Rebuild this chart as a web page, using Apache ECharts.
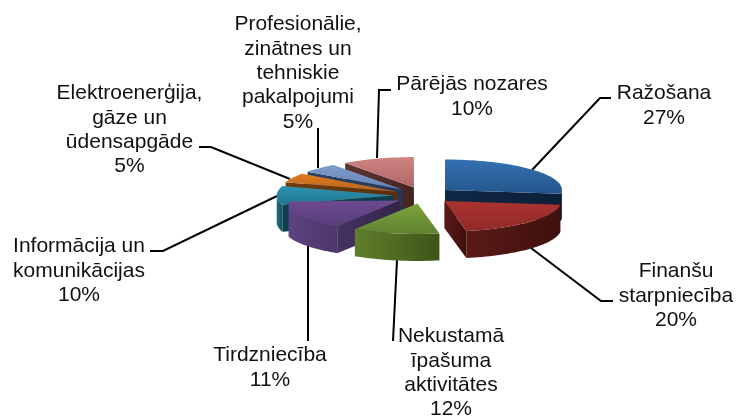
<!DOCTYPE html>
<html><head><meta charset="utf-8">
<style>html,body{margin:0;padding:0;background:#fff}#c{width:736px;height:416px}</style>
<script src="https://cdn.jsdelivr.net/npm/echarts@6/dist/echarts.min.js"></script>
</head><body><div id="c"></div>
<script>
const categories = ['Ražošana','Finanšu starpniecība','Nekustamā īpašuma aktivitātes','Tirdzniecība','Informācija un komunikācijas','Elektroenerģija, gāze un ūdensapgāde','Profesionālie, zinātnes un tehniskie pakalpojumi','Pārējās nozares'];
const shares = [27,20,12,11,10,5,5,10];
const labelLines = [['Ražošana'],['Finanšu','starpniecība'],['Nekustamā','īpašuma','aktivitātes'],['Tirdzniecība'],['Informācija un','komunikācijas'],['Elektroenerģija,','gāze un','ūdensapgāde'],['Profesionālie,','zinātnes un','tehniskie','pakalpojumi'],['Pārējās nozares']];

const topColors = [['#3470b0','#24568c'],['#ab3330','#8f2a28'],['#7ba63c','#5f8030'],['#6c4a90','#5b3f7c'],['#2f93b0','#1f7690'],['#e07c20','#b8641a'],['#7f9cca','#6482b4'],['#cf8583','#ae6563']];
const radialColors = [['#0f2747','#0d2038'],['#5a1a17','#3f100e'],['#5f7f2c','#3f5418'],['#463260','#33244a'],['#0e3f4e','#0e3f4e'],['#6e3c0e','#5c300a'],['#2c4468','#24385a'],['#5c3432','#452524']];
const outerColors = [['#0f2747','#0d2038'],['#5a1a17','#3f100e'],['#5f7f2c','#3f5418'],['#5e4282','#4c3868'],['#1d6f86','#12505f'],['#8a4a10','#5c300a'],['#34507c','#24385a'],['#5c3432','#452524']];
const drawOrder = [7,6,5,4,3,2,0,1];
const labelPos = [[664,93.5],[676,271.5],[451,336.5],[270,355.5],[79,246.5],[129.5,93.5],[298,24.5],[472,84.5]];
const leaders = [
 [[611,98],[600,98],[532,170]],
 [[613,301],[601,301],[531,248]],
 [[393,341],[397,260]],
 [[308,341],[308,246]],
 [[150,251],[163,251],[277,196]],
 [[199,147],[211,147],[290,179]],
 [[318,128],[318,168]],
 [[391,90],[379,90],[377,158]]
];
// the reference's purple slice bulges above its true edge; vertex offsets from its apex
const topBulge = {3:[[-111,1]]};

const C = {x:423,y:195.4,rx:117,ry:30.5,k:0.28,d:29.3,depth:27};
const total = shares.reduce((a,b)=>a+b,0);
const rad = Math.PI/180;
function angles(i){let s=0;for(let j=0;j<i;j++)s+=shares[j];return [s/total*360,(s+shares[i])/total*360];}
function arc(ax,ay,a0,a1,dy){const p=[];const n=Math.max(2,Math.ceil((a1-a0)/2));for(let t=0;t<=n;t++){const a=(a0+(a1-a0)*t/n)*rad;p.push([ax+C.rx*Math.sin(a),ay-C.ry*Math.cos(a)+dy]);}return p;}
function grad(c,h){return h?new echarts.graphic.LinearGradient(0,0,1,0,[{offset:0,color:c[0]},{offset:1,color:c[1]}]):new echarts.graphic.LinearGradient(0,0,0,1,[{offset:0,color:c[0]},{offset:1,color:c[1]}]);}

function renderSlice(params,api){
  const i=api.value(0);
  const [a0,a1]=angles(i);
  const mid=(a0+a1)/2*rad;
  const ax=C.x+C.d*Math.sin(mid), ay=C.y-C.d*C.k*Math.cos(mid);
  const rank=drawOrder.indexOf(i)*10;
  const kids=[];
  const wall=(pts,fill,z)=>kids.push({type:'polygon',shape:{points:pts},style:{fill:fill,stroke:null},z2:rank+z});
  const radial=(a)=>{const r=a*rad;const px=ax+C.rx*Math.sin(r),py=ay-C.ry*Math.cos(r);
    wall([[ax,ay],[px,py],[px,py+C.depth],[ax,ay+C.depth]],grad(radialColors[i],true),1);};
  if(Math.sin(a0*rad)<-1e-6)radial(a0);
  if(Math.sin(a1*rad)>1e-6)radial(a1);
  const w0=Math.max(a0,90),w1=Math.min(a1,270);
  if(w1>w0){const t=arc(ax,ay,w0,w1,0),b=arc(ax,ay,w0,w1,C.depth).reverse();wall(t.concat(b),grad(outerColors[i],true),2);}
  const extra=(topBulge[i]||[]).map(o=>[ax+o[0],ay+o[1]]);
  kids.push({type:'polygon',shape:{points:[[ax,ay]].concat(arc(ax,ay,a0,a1,0),extra)},style:{fill:grad(topColors[i],false),stroke:null},z2:rank+3});
  return {type:'group',children:kids};
}
function renderLabel(params,api){
  const i=api.value(0);
  const lines=labelLines[i].concat([shares[i]+'%']);
  const kids=lines.map((t,n)=>({type:'text',z2:500,style:{text:t,x:labelPos[i][0],y:labelPos[i][1]+n*24.4,align:'center',verticalAlign:'middle',fontFamily:'"Liberation Sans",Arial,sans-serif',fontSize:21,fill:'#111'}}));
  kids.push({type:'polyline',z2:-5,shape:{points:leaders[i]},style:{stroke:'#000',lineWidth:2,fill:null}});
  return {type:'group',children:kids};
}
const chart=echarts.init(document.getElementById('c'),null,{renderer:'canvas'});
const idx=categories.map((c,i)=>[i,shares[i],c]);
chart.setOption({animation:false,backgroundColor:'#fff',
 series:[
  {type:'custom',name:'leaders',coordinateSystem:'none',renderItem:renderLabel,data:idx,z:1,silent:true},
  {type:'custom',name:'slices',coordinateSystem:'none',renderItem:renderSlice,data:idx,z:2,silent:true}
 ]});
</script></body></html>
